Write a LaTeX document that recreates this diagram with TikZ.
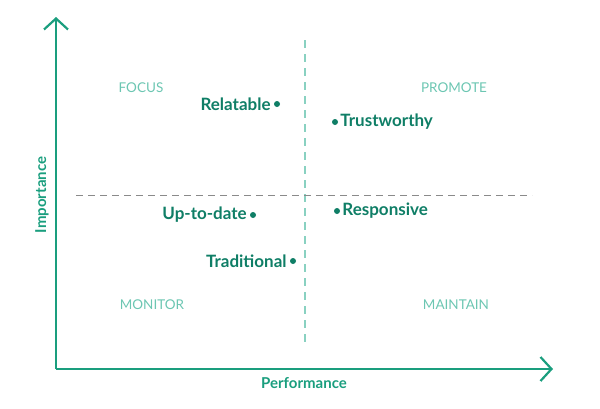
\documentclass[tikz,border=0pt]{standalone}
\usepackage{fontspec}
\setmainfont{Lato}
\usetikzlibrary{arrows.meta,positioning}
\definecolor{axisgreen}{HTML}{1A9E7E}
\definecolor{itemgreen}{HTML}{0F7E66}
\definecolor{quadgreen}{HTML}{6CC6B2}
\definecolor{midgray}{HTML}{8A8A8A}
\begin{document}
\begin{tikzpicture}[x=1pt,y=-1pt,
	axis/.style={axisgreen,line width=2.4pt,-{Straight Barb[length=11pt,width=24pt,line width=2.2pt]}},
	quad/.style={quadgreen,font=\fontsize{13.5}{15}\selectfont},
	item/.style={itemgreen,font=\fontsize{17}{19}\selectfont\bfseries,inner sep=0pt},
	dot/.style={circle,fill=itemgreen,inner sep=0pt,minimum size=6pt},
	axislabel/.style={axisgreen,font=\fontsize{15}{17}\selectfont\bfseries}]
	\useasboundingbox (0,0) rectangle (600,408);
	% axes
	\coordinate (origin) at (56,369);
	\coordinate (ytip) at (56,17);
	\coordinate (xtip) at (553,369);
	\draw[axis] (origin) -- (ytip);
	\draw[axis] (origin) -- (xtip);
	\node[axislabel,rotate=90] (importance) at (42,195) {Importance};
	\node[axislabel] (performance) at (304,383) {Performance};
	% quadrant split
	\coordinate (vtop) at (305,40);
	\coordinate (vbot) at (305,346);
	\coordinate (hleft) at (76,195);
	\coordinate (hright) at (532,195);
	\draw[quadgreen!80,line width=1.3pt,dash pattern=on 8pt off 6pt] (vtop) -- (vbot);
	\draw[midgray,line width=1pt,dash pattern=on 7pt off 5pt] (hleft) -- (hright);
	\node[quad] (focus) at (141,88) {FOCUS};
	\node[quad] (promote) at (454,88) {PROMOTE};
	\node[quad] (monitor) at (152,305) {MONITOR};
	\node[quad] (maintain) at (456,305) {MAINTAIN};
	% attributes
	\node[dot] (relatable) at (277,104) {};
	\node[item,left=3pt of relatable] {Relatable};
	\node[dot] (trustworthy) at (335,122) {};
	\node[item,right=2pt of trustworthy] {Trustworthy};
	\node[dot] (uptodate) at (253,215) {};
	\node[item,left=3pt of uptodate] {Up-to-date};
	\node[dot] (responsive) at (337,211) {};
	\node[item,right=2pt of responsive] {Responsive};
	\node[dot] (traditional) at (293,261) {};
	\node[item,left=3pt of traditional] {Traditional};
\end{tikzpicture}
\end{document}
